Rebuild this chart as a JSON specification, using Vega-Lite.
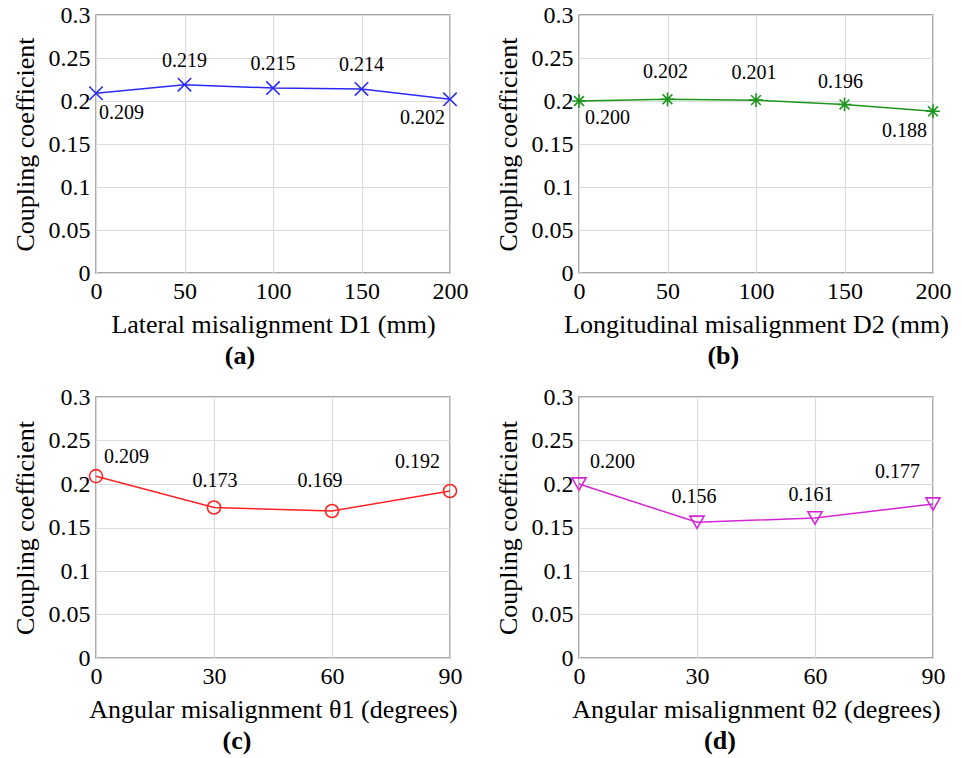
{
  "$schema": "https://vega.github.io/schema/vega-lite/v6.json",
  "padding": {"left": 11, "top": 2, "right": 5, "bottom": 5},
  "background": "white",
  "datasets": {
    "a": [{"x": 0, "k": 0.209}, {"x": 50, "k": 0.219}, {"x": 100, "k": 0.215}, {"x": 150, "k": 0.214}, {"x": 200, "k": 0.202}],
    "b": [{"x": 0, "k": 0.200}, {"x": 50, "k": 0.202}, {"x": 100, "k": 0.201}, {"x": 150, "k": 0.196}, {"x": 200, "k": 0.188}],
    "c": [{"x": 0, "k": 0.209}, {"x": 30, "k": 0.173}, {"x": 60, "k": 0.169}, {"x": 90, "k": 0.192}],
    "d": [{"x": 0, "k": 0.200}, {"x": 30, "k": 0.156}, {"x": 60, "k": 0.161}, {"x": 90, "k": 0.177}]
  },
  "bounds": "flush",
  "columns": 2,
  "spacing": {"row": 124, "column": 129},
  "concat": [
    {
      "data": {"name": "a"},
      "width": 354, "height": 258,
      "title": {"text": "(a)"},
      "encoding": {
        "x": {"field": "x", "type": "quantitative", "scale": {"domain": [0, 200], "nice": false}, "axis": {"values": [0, 50, 100, 150, 200], "title": "Lateral misalignment D1 (mm)"}},
        "y": {"field": "k", "type": "quantitative", "scale": {"domain": [0, 0.3], "nice": false}, "axis": {"values": [0, 0.05, 0.1, 0.15, 0.2, 0.25, 0.3], "format": "~g", "title": "Coupling coefficient"}}
      },
      "layer": [
        {"mark": {"type": "line", "color": "#2a2af5", "strokeWidth": 1.5}},
        {"mark": {"type": "point", "shape": "M-1,-1L1,1M-1,1L1,-1", "size": 180, "filled": false, "color": "#2a2af5", "strokeWidth": 1.6, "opacity": 1}},
        {"transform": [{"filter": "datum.x == 0"}], "mark": {"type": "text", "align": "left", "baseline": "middle", "dx": 3, "dy": 20}, "encoding": {"text": {"field": "k", "format": ".3f"}}},
        {"transform": [{"filter": "datum.x > 0 && datum.x < 200"}], "mark": {"type": "text", "align": "center", "baseline": "middle", "dx": 0, "dy": -24}, "encoding": {"text": {"field": "k", "format": ".3f"}}},
        {"transform": [{"filter": "datum.x == 200"}], "mark": {"type": "text", "align": "right", "baseline": "middle", "dx": -5, "dy": 19}, "encoding": {"text": {"field": "k", "format": ".3f"}}}
      ]
    },
    {
      "data": {"name": "b"},
      "width": 354, "height": 258,
      "title": {"text": "(b)"},
      "encoding": {
        "x": {"field": "x", "type": "quantitative", "scale": {"domain": [0, 200], "nice": false}, "axis": {"values": [0, 50, 100, 150, 200], "title": "Longitudinal misalignment  D2 (mm)"}},
        "y": {"field": "k", "type": "quantitative", "scale": {"domain": [0, 0.3], "nice": false}, "axis": {"values": [0, 0.05, 0.1, 0.15, 0.2, 0.25, 0.3], "format": "~g", "title": "Coupling coefficient"}}
      },
      "layer": [
        {"mark": {"type": "line", "color": "#1e961e", "strokeWidth": 1.5}},
        {"mark": {"type": "point", "shape": "M-1,0L1,0M0,-1L0,1M-0.71,-0.71L0.71,0.71M-0.71,0.71L0.71,-0.71", "size": 190, "filled": false, "color": "#1e961e", "strokeWidth": 1.6, "opacity": 1}},
        {"transform": [{"filter": "datum.x == 0"}], "mark": {"type": "text", "align": "left", "baseline": "middle", "dx": 6, "dy": 17}, "encoding": {"text": {"field": "k", "format": ".3f"}}},
        {"transform": [{"filter": "datum.x == 50 || datum.x == 100"}], "mark": {"type": "text", "align": "center", "baseline": "middle", "dx": -2, "dy": -27}, "encoding": {"text": {"field": "k", "format": ".3f"}}},
        {"transform": [{"filter": "datum.x == 150"}], "mark": {"type": "text", "align": "center", "baseline": "middle", "dx": -4, "dy": -22}, "encoding": {"text": {"field": "k", "format": ".3f"}}},
        {"transform": [{"filter": "datum.x == 200"}], "mark": {"type": "text", "align": "right", "baseline": "middle", "dx": -6, "dy": 20}, "encoding": {"text": {"field": "k", "format": ".3f"}}}
      ]
    },
    {
      "data": {"name": "c"},
      "width": 354, "height": 261,
      "title": {"text": "(c)"},
      "encoding": {
        "x": {"field": "x", "type": "quantitative", "scale": {"domain": [0, 90], "nice": false}, "axis": {"values": [0, 30, 60, 90], "title": "Angular misalignment θ1 (degrees)"}},
        "y": {"field": "k", "type": "quantitative", "scale": {"domain": [0, 0.3], "nice": false}, "axis": {"values": [0, 0.05, 0.1, 0.15, 0.2, 0.25, 0.3], "format": "~g", "title": "Coupling coefficient"}}
      },
      "layer": [
        {"mark": {"type": "line", "color": "#ff2424", "strokeWidth": 1.5}},
        {"mark": {"type": "point", "shape": "circle", "size": 170, "filled": false, "color": "#ff2424", "strokeWidth": 1.6, "opacity": 1}},
        {"transform": [{"filter": "datum.x == 0"}], "mark": {"type": "text", "align": "left", "baseline": "middle", "dx": 8, "dy": -19}, "encoding": {"text": {"field": "k", "format": ".3f"}}},
        {"transform": [{"filter": "datum.x == 30"}], "mark": {"type": "text", "align": "center", "baseline": "middle", "dx": 1, "dy": -26}, "encoding": {"text": {"field": "k", "format": ".3f"}}},
        {"transform": [{"filter": "datum.x == 60"}], "mark": {"type": "text", "align": "center", "baseline": "middle", "dx": -12, "dy": -30}, "encoding": {"text": {"field": "k", "format": ".3f"}}},
        {"transform": [{"filter": "datum.x == 90"}], "mark": {"type": "text", "align": "right", "baseline": "middle", "dx": -10, "dy": -29}, "encoding": {"text": {"field": "k", "format": ".3f"}}}
      ]
    },
    {
      "data": {"name": "d"},
      "width": 354, "height": 261,
      "title": {"text": "(d)"},
      "encoding": {
        "x": {"field": "x", "type": "quantitative", "scale": {"domain": [0, 90], "nice": false}, "axis": {"values": [0, 30, 60, 90], "title": "Angular misalignment θ2 (degrees)"}},
        "y": {"field": "k", "type": "quantitative", "scale": {"domain": [0, 0.3], "nice": false}, "axis": {"values": [0, 0.05, 0.1, 0.15, 0.2, 0.25, 0.3], "format": "~g", "title": "Coupling coefficient"}}
      },
      "layer": [
        {"mark": {"type": "line", "color": "#d426d4", "strokeWidth": 1.5}},
        {"mark": {"type": "point", "shape": "triangle-down", "size": 200, "filled": false, "color": "#d426d4", "strokeWidth": 1.6, "opacity": 1}},
        {"transform": [{"filter": "datum.x == 0"}], "mark": {"type": "text", "align": "left", "baseline": "middle", "dx": 11, "dy": -22}, "encoding": {"text": {"field": "k", "format": ".3f"}}},
        {"transform": [{"filter": "datum.x == 30"}], "mark": {"type": "text", "align": "center", "baseline": "middle", "dx": -3, "dy": -25}, "encoding": {"text": {"field": "k", "format": ".3f"}}},
        {"transform": [{"filter": "datum.x == 60"}], "mark": {"type": "text", "align": "center", "baseline": "middle", "dx": -4, "dy": -23}, "encoding": {"text": {"field": "k", "format": ".3f"}}},
        {"transform": [{"filter": "datum.x == 90"}], "mark": {"type": "text", "align": "right", "baseline": "middle", "dx": -13, "dy": -32}, "encoding": {"text": {"field": "k", "format": ".3f"}}}
      ]
    }
  ],
  "config": {
    "font": "Liberation Serif",
    "view": {"stroke": "#8c8c8c", "strokeWidth": 1.5},
    "axis": {
      "labelFont": "Liberation Serif", "labelFontSize": 24, "labelColor": "black",
      "titleFont": "Liberation Serif", "titleFontSize": 26, "titleFontWeight": "normal", "titleColor": "black",
      "grid": true, "gridColor": "#dcdcdc", "gridWidth": 1.2,
      "ticks": false, "domain": false, "labelPadding": 6, "labelFlush": false
    },
    "axisY": {"titlePadding": 10},
    "axisX": {"titlePadding": 8},
    "title": {"font": "Liberation Serif", "fontSize": 26, "fontWeight": "bold", "color": "black", "orient": "bottom", "anchor": "middle", "frame": "bounds", "offset": 6},
    "text": {"font": "Liberation Serif", "fontSize": 20, "color": "black"}
  }
}
